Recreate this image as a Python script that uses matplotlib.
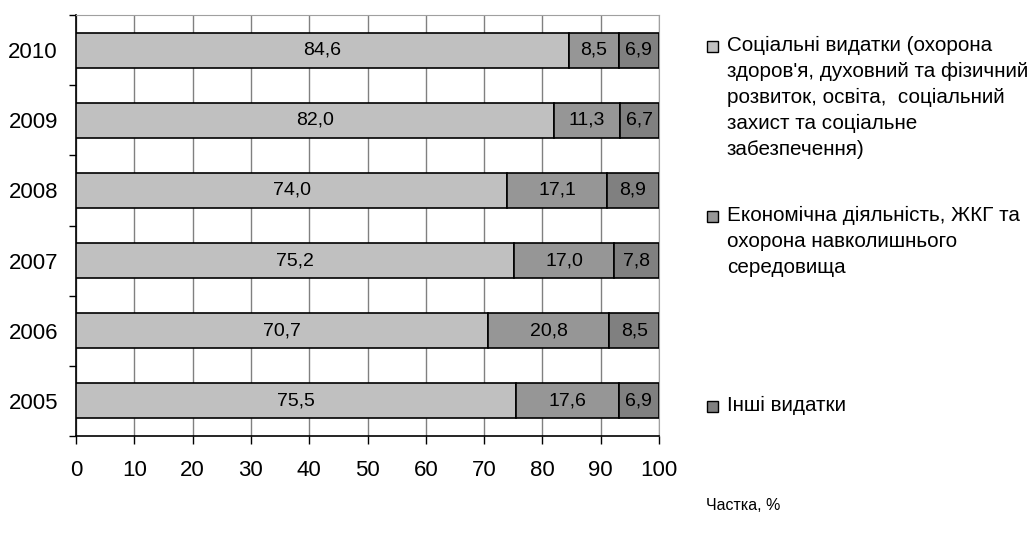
import matplotlib
matplotlib.use("Agg")
import matplotlib.pyplot as plt
from matplotlib.patches import Rectangle
import numpy as np

plt.rcParams['font.family'] = ['Liberation Sans', 'DejaVu Sans']

years = ["2005", "2006", "2007", "2008", "2009", "2010"]
social = [75.5, 70.7, 75.2, 74.0, 82.0, 84.6]
economic = [17.6, 20.8, 17.0, 17.1, 11.3, 8.5]
other = [6.9, 8.5, 7.8, 8.9, 6.7, 6.9]
series_names = [
    "Соціальні видатки (охорона\nздоров'я, духовний та фізичний\nрозвиток, освіта,  соціальний\nзахист та соціальне\nзабезпечення)",
    "Економічна діяльність, ЖКГ та\nохорона навколишнього\nсередовища",
    "Інші видатки",
]
colors = ["#C0C0C0", "#969696", "#808080"]
xticks = [0, 10, 20, 30, 40, 50, 60, 70, 80, 90, 100]
xlabel = "Частка, %"

fig = plt.figure(figsize=(10.32, 5.38), dpi=100)
ax = fig.add_axes([76/1032, 1-436/538, (659-76)/1032, (436-15)/538])

y = np.arange(len(years))
left = np.zeros(len(years))
for vals, c in zip([social, economic, other], colors):
    bars = ax.barh(y, vals, left=left, height=0.5, color=c, edgecolor="black",
                   linewidth=1.2, zorder=3)
    for b, v in zip(bars, vals):
        ax.text(b.get_x() + b.get_width()/2, b.get_y() + b.get_height()/2,
                f"{v:.1f}".replace(".", ","), ha="center", va="center",
                fontsize=14, zorder=4)
    left = left + np.array(vals)

ax.set_xlim(0, 100)
ax.set_ylim(-0.5, len(years) - 0.5)
ax.set_xticks(xticks)
ax.set_xticklabels([str(t) for t in xticks], fontsize=16)
ax.set_yticks(y)
ax.set_yticklabels(years, fontsize=16)
ax.set_yticks(np.arange(-0.5, len(years)), minor=True)
ax.tick_params(axis="y", which="major", length=0, pad=13)
ax.tick_params(axis="y", which="minor", length=5, width=1, direction="out", color="black")
ax.tick_params(axis="x", length=6, width=1, direction="out", pad=11)
ax.grid(axis="x", color="#808080", linewidth=1, zorder=0)
for s in ["top", "right"]:
    ax.spines[s].set_color("#A0A0A0")
for s in ["left", "bottom"]:
    ax.spines[s].set_color("black")
    ax.spines[s].set_linewidth(1.2)

# Legend
W, H = 1032, 538
legend_y = [46, 216, 406]
for name, c, ly in zip(series_names, colors, legend_y):
    fig.patches.append(Rectangle((707/W, 1-(ly+6)/H), 11/W, 11/H, transform=fig.transFigure,
                                 facecolor=c, edgecolor="black", linewidth=1))
    fig.text(727/W, 1-(ly-10)/H, name, ha="left", va="top", fontsize=14.9,
             linespacing=1.46)

fig.text(706/W, 1-505/H, xlabel, ha="left", va="center", fontsize=11.5)

fig.savefig("out.png", dpi=100)
